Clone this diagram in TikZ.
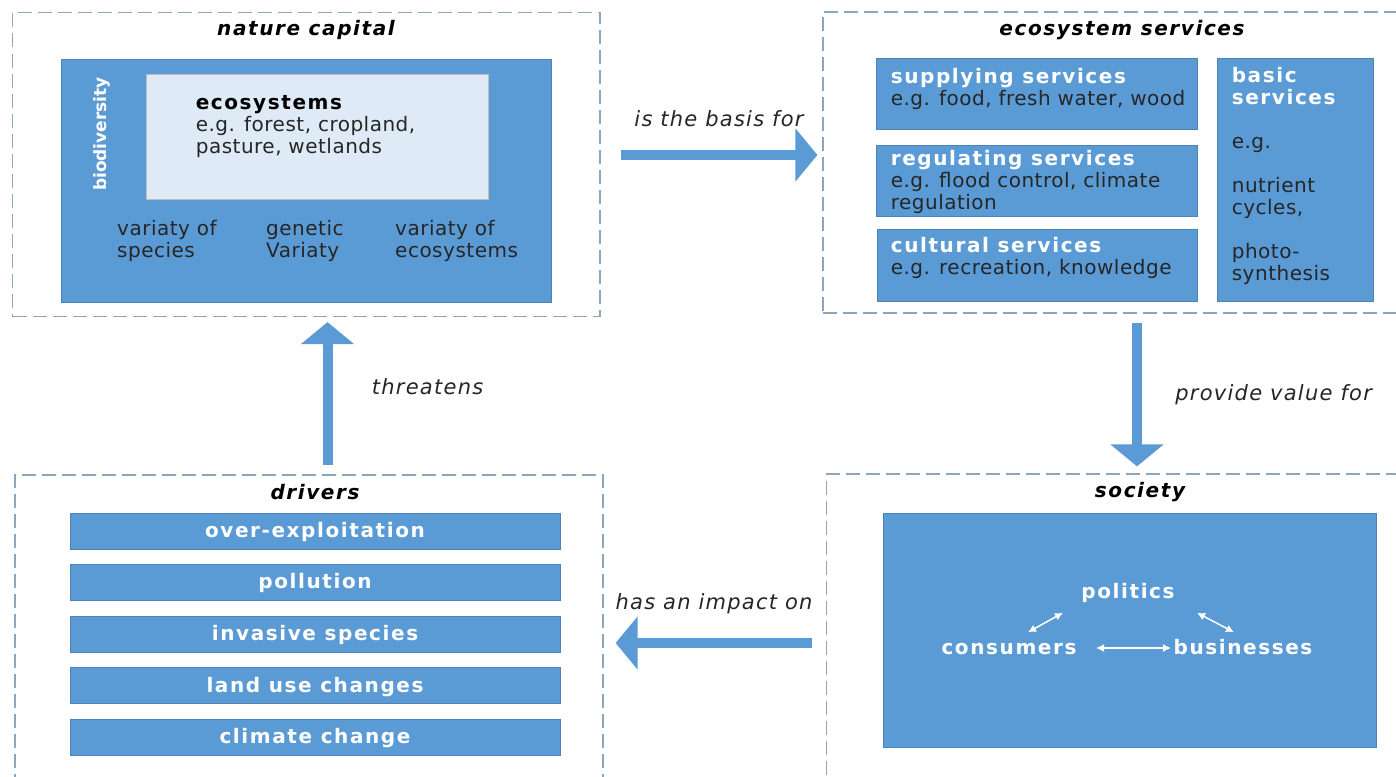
\documentclass[tikz,border=0pt]{standalone}
\usepackage{fontspec}
\setmainfont{DejaVu Sans}[LetterSpace=2.5,
  ItalicFeatures={LetterSpace=6},
  BoldFeatures={LetterSpace=8},
  BoldItalicFeatures={LetterSpace=8}]
\newfontfamily\plainfont{DejaVu Sans}
\usepackage{tikz}
\usetikzlibrary{arrows.meta,positioning}

\definecolor{boxblue}{HTML}{5B9BD5}
\definecolor{paleblue}{HTML}{DEEBF7}
\definecolor{framegray}{HTML}{8EA6BD}
\definecolor{darktext}{HTML}{262626}

% white bold heading inside a blue box
\newcommand{\boxhead}[1]{\textcolor{white}{\bfseries #1}}

\begin{document}
\begin{tikzpicture}[x=1pt,y=-1pt,>=Latex,
    frame/.style={draw=framegray,line width=1.2pt,dash pattern=on 14pt off 6pt,inner sep=0pt},
    bluebox/.style={fill=boxblue,draw=boxblue!85!black,line width=0.8pt,inner sep=0pt},
    title/.style={font=\fontsize{20}{22}\selectfont\bfseries\itshape},
    txt/.style={font=\fontsize{20}{22}\selectfont,align=left,inner sep=0pt,text=darktext},
    wtext/.style={font=\fontsize{20}{22}\selectfont\bfseries,text=white,text height=15.5pt,text depth=3pt},
    bigarrow/.style={draw=boxblue,line width=10pt,-{Triangle[width=52pt,length=22pt]}},
    smallarrow/.style={draw=white,line width=1.5pt,{Latex[length=8pt,width=8pt]}-{Latex[length=8pt,width=8pt]}},
    arrowtext/.style={font=\fontsize{21}{23}\selectfont\itshape,text=darktext}]

    % page size of the reference
    \useasboundingbox (0,0) rectangle (1396,776);
    \clip (0,0) rectangle (1396,776);
    \fill[white] (0,0) rectangle (1396,776);

    % nature capital
    \node[frame,minimum width=587.5pt,minimum height=304pt] (nat) at (306.25,164.5) {};
    \node[title] (natT) at (306,30) {nature capital};
    \node[bluebox,minimum width=490pt,minimum height=243pt] (bio) at (306,180.5) {};
    \node[fill=paleblue,draw=gray!50,line width=0.8pt,minimum width=342pt,minimum height=125pt,inner sep=0pt] (eco) at (317,136.5) {};
    \node[txt,anchor=north west] (ecoT) at ([xshift=50pt,yshift=-22pt]eco.north west)
        {\textcolor{black}{\bfseries ecosystems}\\e.g. forest, cropland,\\pasture, wetlands};
    \node[rotate=90,text=white,font=\fontsize{17}{20}\selectfont\plainfont\bfseries] (bioT) at (102,134) {biodiversity};
    \node[txt,anchor=north west] (varSp) at (117,220) {variaty of\\species};
    \node[txt,anchor=north west] (genVar) at (266,220) {genetic\\Variaty};
    \node[txt,anchor=north west] (varEco) at (395,220) {variaty of\\ecosystems};

    % ecosystem services
    \node[frame,minimum width=587pt,minimum height=301pt] (svc) at (1116.5,162.5) {};
    \node[title] (svcT) at (1122,30) {ecosystem services};
    \node[bluebox,minimum width=321pt,minimum height=71pt] (sup) at (1036.5,93.5) {};
    \node[bluebox,minimum width=321pt,minimum height=71pt] (reg) at (1036.5,180.5) {};
    \node[bluebox,minimum width=320pt,minimum height=72pt] (cul) at (1037,265) {};
    \node[bluebox,minimum width=156pt,minimum height=243pt] (bas) at (1295,179.5) {};
    \node[txt,anchor=north west] (supT) at ([xshift=15pt,yshift=-11pt]sup.north west)
        {\boxhead{supplying services}\\e.g. food, fresh water, wood};
    \node[txt,anchor=north west] (regT) at ([xshift=15pt,yshift=-6pt]reg.north west)
        {\boxhead{regulating services}\\e.g. flood control, climate\\regulation};
    \node[txt,anchor=north west] (culT) at ([xshift=14pt,yshift=-9pt]cul.north west)
        {\boxhead{cultural services}\\e.g. recreation, knowledge};
    \node[txt,anchor=north west] (basT) at ([xshift=15pt,yshift=-10pt]bas.north west)
        {\boxhead{basic}\\\boxhead{services}\\[22pt]e.g.\\[22pt]nutrient\\cycles,\\[22pt]photo-\\synthesis};

    % society
    \node[frame,minimum width=583.5pt,minimum height=326pt] (soc) at (1118.25,637) {};
    \node[title] (socT) at (1140,492) {society};
    \node[bluebox,minimum width=493pt,minimum height=234pt] (socB) at (1130,630) {};
    \node[wtext] (pol) at (1128,592) {politics};
    \node[wtext] (cons) at (1009,648) {consumers};
    \node[wtext] (bus) at (1243,648) {businesses};
    \draw[smallarrow] ([xshift=16pt]cons.east) -- ([xshift=1pt]bus.west);
    \draw[smallarrow] ([xshift=19pt,yshift=3pt]cons.north) -- ([xshift=-65pt,yshift=-8pt]pol.south);
    \draw[smallarrow] ([xshift=69pt,yshift=-8pt]pol.south) -- ([xshift=-9pt,yshift=3pt]bus.north);

    % drivers
    \node[frame,minimum width=588pt,minimum height=325pt] (drv) at (309,637.5) {};
    \node[title] (drvT) at (315,492) {drivers};
    \foreach \t [count=\i] in {over-exploitation,pollution,invasive species,land use changes,climate change}
        \node[bluebox,wtext,minimum width=490pt,minimum height=36pt] (bar\i) at (315,{531+(\i-1)*51.6}) {\t};

    % arrows between the four parts
    \draw[bigarrow] ([xshift=20pt,yshift=9.5pt]nat.east) -- ([xshift=-5pt,yshift=7.5pt]svc.west)
        node[arrowtext,midway,above=20pt] {is the basis for};
    \draw[bigarrow] ([xshift=20.5pt,yshift=-9pt]svc.south) -- ([xshift=18.75pt,yshift=7pt]soc.north)
        node[arrowtext,midway,right=30pt] {provide value for};
    \draw[bigarrow] ([xshift=-13.5pt,yshift=-6pt]soc.west) -- ([xshift=12pt,yshift=-5.5pt]drv.east)
        node[arrowtext,midway,above=21pt] {has an impact on};
    \draw[bigarrow] ([xshift=18.5pt,yshift=9pt]drv.north) -- ([xshift=21.25pt,yshift=-5pt]nat.south)
        node[arrowtext,midway,right=36pt,yshift=7pt] {threatens};
\end{tikzpicture}
\end{document}
